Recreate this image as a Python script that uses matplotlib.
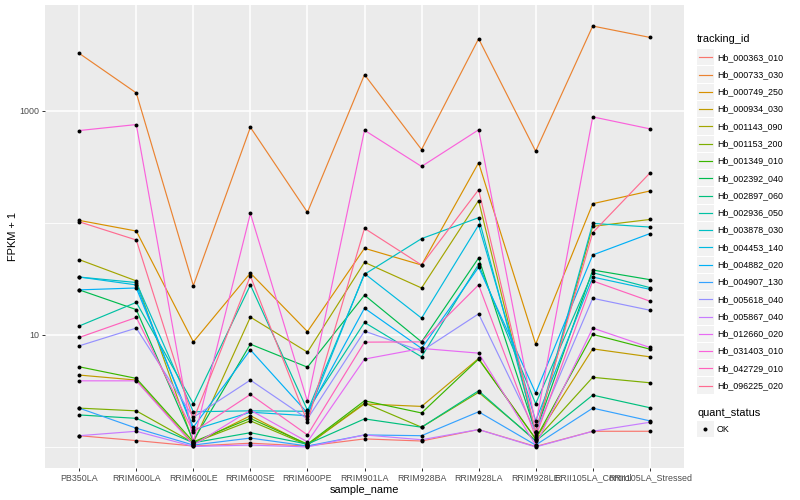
import matplotlib
matplotlib.use("Agg")
import matplotlib.pyplot as plt
import numpy as np
from matplotlib.patches import Rectangle
from matplotlib.lines import Line2D
from matplotlib.ticker import FixedLocator, NullFormatter

plt.rcParams['font.family'] = ['Liberation Sans', 'DejaVu Sans']

samples = ["PB350LA", "RRIM600LA", "RRIM600LE", "RRIM600SE", "RRIM600PE",
           "RRIM901LA", "RRIM928BA", "RRIM928LA", "RRIM928LE",
           "RRII105LA_Control", "RRII105LA_Stressed"]

tracking_ids = ["Hb_000363_010", "Hb_000733_030", "Hb_000749_250", "Hb_000934_030",
                "Hb_001143_090", "Hb_001153_200", "Hb_001349_010", "Hb_002392_040",
                "Hb_002897_060", "Hb_002936_050", "Hb_003878_030", "Hb_004453_140",
                "Hb_004882_020", "Hb_004907_130", "Hb_005618_040", "Hb_005867_040",
                "Hb_012660_020", "Hb_031403_010", "Hb_042729_010", "Hb_096225_020"]

colors = ["#F8766D", "#EA8331", "#D89000", "#C09B00", "#A3A500", "#7CAE00",
          "#39B600", "#00BB4E", "#00BF7D", "#00C1A3", "#00BFC4", "#00BAE0",
          "#00B0F6", "#35A2FF", "#9590FF", "#C77CFF", "#E76BF3", "#FA62DB",
          "#FF62BC", "#FF6C91"]

# FPKM + 1 per sample, one list per tracking_id
hb_000363_010 = [1.26, 1.14, 1.02, 1.08, 1.02, 1.18, 1.13, 1.43, 1.01, 1.38, 1.38]
hb_000733_030 = [3245, 1440, 27.5, 711, 124, 2096, 450, 4385, 435, 5690, 4508]
hb_000749_250 = [105, 84.4, 8.66, 35.6, 10.7, 59.2, 42.0, 343, 8.26, 148, 192]
hb_000934_030 = [4.38, 3.95, 1.06, 1.90, 1.04, 2.42, 2.30, 6.16, 1.18, 7.50, 6.37]
hb_001143_090 = [46.9, 30.3, 1.09, 14.4, 7.01, 44.4, 26.2, 158, 1.28, 92.9, 107]
hb_001153_200 = [2.22, 2.10, 1.09, 1.71, 1.04, 2.47, 1.50, 3.07, 1.15, 4.18, 3.74]
hb_001349_010 = [5.19, 4.09, 1.11, 1.80, 1.06, 2.58, 2.01, 6.08, 1.18, 10.1, 7.46]
hb_002392_040 = [25.2, 16.8, 1.14, 8.26, 5.15, 22.6, 8.66, 48.5, 1.36, 37.9, 31.1]
hb_002897_060 = [1.93, 1.80, 1.09, 1.34, 1.06, 1.78, 1.50, 3.17, 1.13, 2.90, 2.24]
hb_002936_050 = [12.0, 19.5, 2.43, 27.9, 2.13, 12.9, 6.37, 42.6, 2.43, 35.9, 26.4]
hb_003878_030 = [32.8, 29.3, 2.06, 2.10, 2.08, 34.7, 72.2, 111, 1.36, 98.8, 91.6]
hb_004453_140 = [32.8, 27.9, 1.42, 2.04, 1.90, 35.2, 14.1, 95.4, 1.71, 32.8, 25.5]
hb_004882_020 = [25.2, 26.2, 1.50, 7.35, 2.01, 17.3, 7.57, 40.1, 3.03, 51.6, 80.0]
hb_004907_130 = [2.22, 1.47, 1.04, 1.20, 1.02, 1.28, 1.26, 2.06, 1.04, 2.22, 1.71]
hb_005618_040 = [7.98, 11.5, 1.84, 3.95, 1.78, 10.8, 7.16, 15.4, 1.36, 21.2, 16.6]
hb_005867_040 = [1.26, 1.38, 1.01, 1.04, 1.00, 1.28, 1.16, 1.43, 1.00, 1.38, 1.66]
hb_012660_020 = [3.89, 3.89, 1.04, 2.13, 1.11, 6.08, 7.57, 6.87, 1.04, 11.5, 7.72]
hb_031403_010 = [665, 752, 1.11, 121, 2.55, 669, 318, 675, 1.57, 881, 689]
hb_042729_010 = [9.48, 14.3, 1.36, 2.94, 1.28, 8.61, 8.66, 27.9, 1.23, 30.3, 20.0]
hb_096225_020 = [102, 70.2, 1.75, 33.5, 1.67, 89.2, 42.0, 197, 1.36, 81.6, 277]

series = [hb_000363_010, hb_000733_030, hb_000749_250, hb_000934_030, hb_001143_090,
          hb_001153_200, hb_001349_010, hb_002392_040, hb_002897_060, hb_002936_050,
          hb_003878_030, hb_004453_140, hb_004882_020, hb_004907_130, hb_005618_040,
          hb_005867_040, hb_012660_020, hb_031403_010, hb_042729_010, hb_096225_020]

y_breaks = [10, 1000]
y_minor = [1, 100]

W, H = 800, 500
fig = plt.figure(figsize=(8, 5), dpi=100)
fig.patch.set_facecolor("white")

pl, pr, pt, pb = 45, 684, 5, 468
ax = fig.add_axes([pl / W, 1 - pb / H, (pr - pl) / W, (pb - pt) / H])
ax.set_facecolor("#EBEBEB")
for s in ax.spines.values():
    s.set_visible(False)
ax.set_yscale("log")

x = np.arange(len(samples))
for vals, col in zip(series, colors):
    ax.plot(x, vals, color=col, lw=0.85, zorder=3, solid_joinstyle="round")
for vals in series:
    ax.scatter(x, vals, s=8, color="black", zorder=4, linewidths=0)

allv = np.log10(np.concatenate([np.array(v, float) for v in series]))
lo, hi = allv.min(), allv.max()
pad = (hi - lo) * 0.05
ax.set_ylim(10 ** (lo - pad), 10 ** (hi + pad))
ax.set_xlim(-0.6, len(samples) - 1 + 0.6)

ax.set_xticks(x)
ax.set_xticklabels(samples)
ax.yaxis.set_major_locator(FixedLocator(y_breaks))
ax.set_yticklabels([str(b) for b in y_breaks])
ax.yaxis.set_minor_locator(FixedLocator(y_minor))
ax.yaxis.set_minor_formatter(NullFormatter())
ax.tick_params(axis="y", which="minor", length=0)
ax.tick_params(which="major", length=2.2, width=0.7, color="#333333",
               labelsize=6.4, labelcolor="#4D4D4D", pad=1.8)
ax.grid(which="major", color="white", lw=1.15, zorder=0)
ax.grid(which="minor", axis="y", color="white", lw=0.6, zorder=0)
ax.set_axisbelow(True)

ax.set_xlabel("sample_name", fontsize=7.9, labelpad=2)
ax.set_ylabel("FPKM + 1", fontsize=7.9, labelpad=1)

# legend (drawn in pixel coordinates)
lax = fig.add_axes([0, 0, 1, 1], zorder=10)
lax.set_xlim(0, W)
lax.set_ylim(H, 0)
lax.axis("off")

kx, kw = 697, 16.5
lax.text(kx, 38.5, "tracking_id", fontsize=7.9, va="center", ha="left")
step = 17.28
for i, (tid, col) in enumerate(zip(tracking_ids, colors)):
    yc = 57.3 + i * step
    lax.add_patch(Rectangle((kx, yc - step / 2 + 0.5), kw, step - 1,
                            facecolor="#F2F2F2", edgecolor="none"))
    lax.add_line(Line2D([kx + 1.5, kx + kw - 1.5], [yc, yc], color=col, lw=0.85))
    lax.text(717, yc, tid, fontsize=6.4, va="center", ha="left")

lax.text(kx, 412.5, "quant_status", fontsize=7.9, va="center", ha="left")
yc = 429.3
lax.add_patch(Rectangle((kx, yc - step / 2 + 0.5), kw, step - 1,
                        facecolor="#F2F2F2", edgecolor="none"))
lax.plot([kx + kw / 2], [yc], marker="o", ms=2.9, color="black", mew=0)
lax.text(717, yc, "OK", fontsize=6.4, va="center", ha="left")

fig.savefig("out.png", dpi=100)
